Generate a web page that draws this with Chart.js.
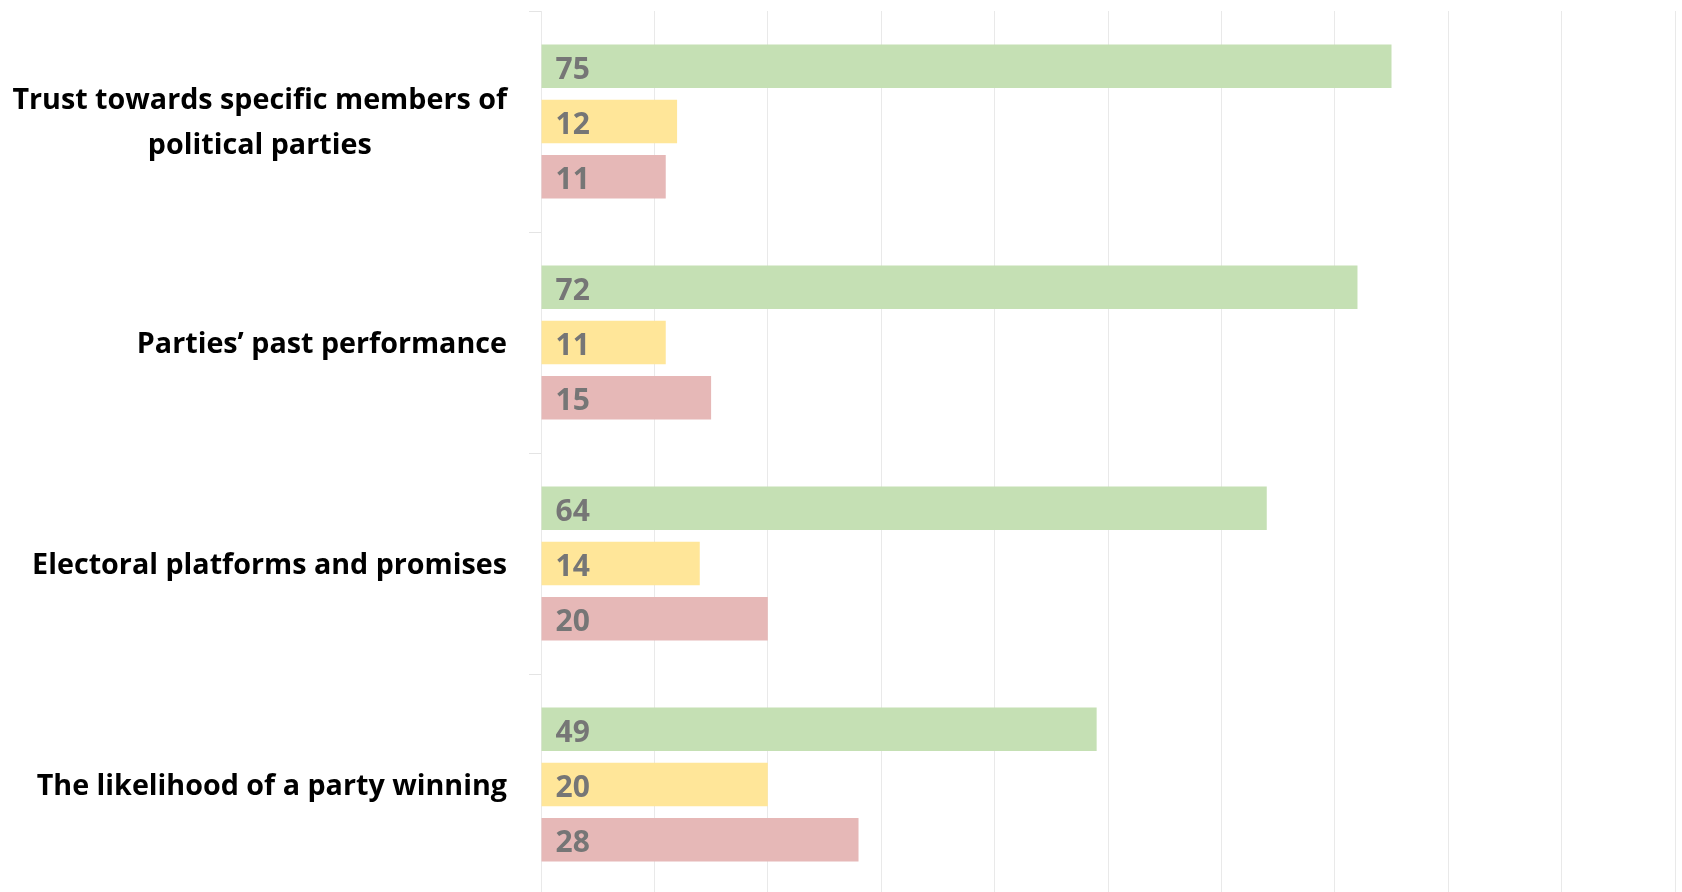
<!DOCTYPE html>
<html>
<head>
<meta charset="utf-8">
<script src="https://cdn.jsdelivr.net/npm/chart.js@4"></script>
<style>
  html, body { margin: 0; padding: 0; background: #fff; overflow: hidden; }
  #wrap { position: relative; width: 1682px; height: 895px; }
</style>
</head>
<body>
<div id="wrap"><canvas id="chart"></canvas></div>
<script>
// categories (top to bottom)
const categories = [
    ['Trust towards specific members of', 'political parties'],
    ['Parties\u2019 past performance'],
    ['Electoral platforms and promises'],
    ['The likelihood of a party winning']
];

// series values
const greenValues = [75, 72, 64, 49];
const yellowValues = [12, 11, 14, 20];
const redValues = [11, 15, 20, 28];

const seriesColors = ['#C5E0B4', '#FFE699', '#E6B8B7'];

const LABEL_FONT = 'bold 28.7px "Open Sans"';
const VALUE_FONT = 'bold 30px "Open Sans"';

// category labels drawn right-aligned as a block, lines centred in it
const categoryLabels = {
    id: 'categoryLabels',
    afterDraw(chart) {
        const ctx = chart.ctx;
        const yScale = chart.scales.y;
        const right = chart.chartArea.left - 34;
        const lineHeight = 45;
        ctx.save();
        ctx.font = LABEL_FONT;
        ctx.fillStyle = '#000';
        ctx.textAlign = 'center';
        ctx.textBaseline = 'middle';
        categories.forEach((lines, i) => {
            const cy = yScale.getPixelForValue(i) + 2;
            const maxW = Math.max(...lines.map(l => ctx.measureText(l).width));
            const cx = right - maxW / 2;
            const top = cy - (lines.length - 1) * lineHeight / 2;
            lines.forEach((line, k) => ctx.fillText(line, cx, top + k * lineHeight));
        });
        ctx.restore();
    }
};

// value labels at the start of each bar
const valueLabels = {
    id: 'valueLabels',
    afterDatasetsDraw(chart) {
        const ctx = chart.ctx;
        ctx.save();
        ctx.font = VALUE_FONT;
        ctx.fillStyle = '#767676';
        ctx.textAlign = 'left';
        ctx.textBaseline = 'middle';
        chart.data.datasets.forEach((ds, di) => {
            chart.getDatasetMeta(di).data.forEach((bar, i) => {
                ctx.fillText(String(ds.data[i]), bar.base + 14, bar.y + 4);
            });
        });
        ctx.restore();
    }
};

new Chart(document.getElementById('chart'), {
    type: 'bar',
    data: {
        labels: categories,
        datasets: [
            { data: greenValues, backgroundColor: seriesColors[0] },
            { data: yellowValues, backgroundColor: seriesColors[1] },
            { data: redValues, backgroundColor: seriesColors[2] }
        ]
    },
    options: {
        indexAxis: 'y',
        responsive: true,
        maintainAspectRatio: false,
        animation: false,
        layout: { padding: { top: 11, right: 7, bottom: 0, left: 0 } },
        datasets: {
            bar: { categoryPercentage: 0.75, barPercentage: 0.79, borderWidth: 0 }
        },
        plugins: {
            legend: { display: false },
            tooltip: { enabled: false }
        },
        scales: {
            x: {
                min: 0,
                max: 100,
                ticks: { display: false, stepSize: 10 },
                grid: { color: '#e9e9e9', lineWidth: 1, drawTicks: false },
                border: { display: false }
            },
            y: {
                offset: true,
                ticks: { display: false },
                grid: {
                    offset: true,
                    drawOnChartArea: false,
                    drawTicks: true,
                    tickLength: 12,
                    color: '#e4e4e4'
                },
                border: { display: false },
                afterFit(scale) { scale.width = 541; }
            }
        }
    },
    plugins: [categoryLabels, valueLabels]
});
</script>
</body>
</html>
